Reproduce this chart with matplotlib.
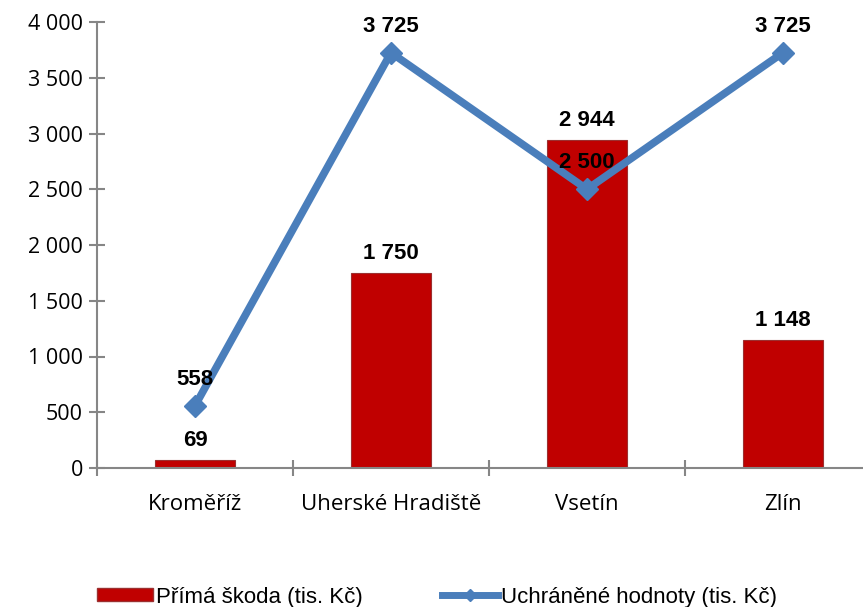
import matplotlib
matplotlib.use("Agg")
import matplotlib.pyplot as plt
from matplotlib.lines import Line2D
from matplotlib.patches import Patch
from matplotlib.ticker import FuncFormatter

categories = ["Kroměříž", "Uherské Hradiště", "Vsetín", "Zlín"]
prima_skoda = [69, 1750, 2944, 1148]
uchranene = [558, 3725, 2500, 3725]
yticks = [0, 500, 1000, 1500, 2000, 2500, 3000, 3500, 4000]

W, H = 863, 607
fig = plt.figure(figsize=(W / 100, H / 100), dpi=100)
ax = fig.add_axes([97 / W, (H - 468) / H, 784 / W, 446 / H])

bar_col = "#C00000"
line_col = "#4A7EBB"
grey = "#868686"

x = list(range(len(categories)))
ax.bar(x, prima_skoda, width=0.41, color=bar_col, edgecolor="#9B3030", linewidth=0.8, zorder=2)
ax.plot(x, uchranene, color=line_col, linewidth=5.5, marker="D", markersize=11,
        markeredgecolor=line_col, markerfacecolor=line_col, zorder=3)

def fmt(v):
    return f"{v:,}".replace(",", " ")

for xi, v in zip(x, prima_skoda):
    ax.annotate(fmt(v), (xi, v), xytext=(0, 14), textcoords="offset points",
                ha="center", va="center", fontsize=16, fontweight="bold",
                family="Liberation Sans", zorder=4)
for xi, v in zip(x, uchranene):
    ax.annotate(fmt(v), (xi, v), xytext=(0, 19), textcoords="offset points",
                ha="center", va="center", fontsize=16, fontweight="bold",
                family="Liberation Sans", zorder=4)

ax.set_xlim(-0.5, len(categories) - 0.5)
ax.set_ylim(0, 4000)
ax.set_yticks(yticks)
ax.yaxis.set_major_formatter(FuncFormatter(lambda v, p: fmt(int(v))))
ax.set_xticks([i - 0.5 for i in range(len(categories) + 1)], minor=False)
ax.set_xticklabels([])
ax.set_xticks(x, minor=True)
ax.set_xticklabels(categories, minor=True)

for s in ["top", "right"]:
    ax.spines[s].set_visible(False)
for s in ["left", "bottom"]:
    ax.spines[s].set_color(grey)
    ax.spines[s].set_linewidth(1.5)

ax.tick_params(axis="y", which="major", direction="inout", length=12, width=1.5, color=grey,
               labelsize=15.5, pad=4)
ax.tick_params(axis="x", which="major", direction="inout", length=12, width=1.5, color=grey)
ax.tick_params(axis="x", which="minor", length=0, labelsize=16, pad=19)
for lab in ax.get_yticklabels() + ax.get_xticklabels(minor=True):
    lab.set_family("Open Sans")

handles = [Patch(facecolor=bar_col, edgecolor="#9B3030"),
           Line2D([0], [0], color=line_col, linewidth=5, marker="D", markersize=6)]
fig.legend(handles, ["Přímá škoda (tis. Kč)", "Uchráněné hodnoty (tis. Kč)"],
           loc="center left", bbox_to_anchor=(97 / W, 1 - 597 / H), ncol=2, frameon=False,
           prop={"family": "Liberation Sans", "size": 16}, handlelength=2.5,
           handletextpad=0.14, columnspacing=3.6, handleheight=0.55,
           borderpad=0, borderaxespad=0)

fig.savefig("out.png", dpi=100)
